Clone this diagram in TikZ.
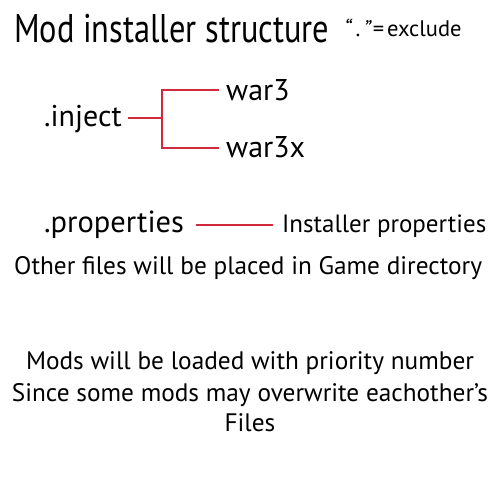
\documentclass[tikz,border=0pt]{standalone}
\usepackage{fontspec}
\setmainfont{PT Sans}
\usepackage{tikz}
\usetikzlibrary{calc}

\begin{document}
\begin{tikzpicture}[x=1pt, y=-1pt]

        % Color definition for the connectors
        \definecolor{branchred}{HTML}{D12A3C} % Soft Red

        \tikzset{
            txt/.style={inner sep=0pt, anchor=base west},
            note/.style={inner sep=0pt, anchor=base, font=\fontsize{25.3}{28}\selectfont},
            branch/.style={draw=branchred, line width=1.6pt}
        }

        % Fixed page size (500 x 500)
        \useasboundingbox[fill=white] (0,0) rectangle (500,500);

        % === TITLE ===
        \node[txt, font=\fontsize{40}{44}\selectfont, xscale=0.81] (title) at (14,43) {Mod installer structure};
        \node[txt, font=\fontsize{22.5}{26}\selectfont] (exclude) at (344,37) {\textit{“}\hspace{3pt}.\hspace{3pt}\textit{”}\hspace{1pt}=\hspace{3pt}exclude};

        % === .inject tree ===
        \node[txt, font=\fontsize{30}{34}\selectfont] (inject) at (44,127) {.inject};
        \node[txt, font=\fontsize{30}{34}\selectfont] (war) at (226,101) {war3};
        \node[txt, font=\fontsize{30}{34}\selectfont] (warx) at (226,157) {war3x};
        \coordinate (fork) at (162,118);
        % Stem and the two branches
        \draw[branch] ($(inject.base east)+(6,-9)$) -- (fork);
        \draw[branch] (fork) |- ($(war.base west)+(-7,-11)$);
        \draw[branch] (fork) |- ($(warx.base west)+(-7,-9)$);

        % === .properties ===
        \node[txt, font=\fontsize{30.5}{34}\selectfont] (props) at (44,232) {.properties};
        \node[txt, font=\fontsize{25}{28}\selectfont] (instprops) at (282,232) {Installer properties};
        \draw[branch] ($(props.base east)+(12,-7)$) -- ($(instprops.base west)+(-9,-7)$);

        % === Notes ===
        \node[txt, font=\fontsize{25.3}{28}\selectfont] (other) at (14,274) {Other files will be placed in Game directory};
        \node[note] (mods) at (250,369) {Mods will be loaded with priority number};
        \node[note] (since) at (250,401) {Since some mods may overwrite eachother’s};
        \node[note] (files) at (250,431) {Files};

    \end{tikzpicture}
\end{document}
